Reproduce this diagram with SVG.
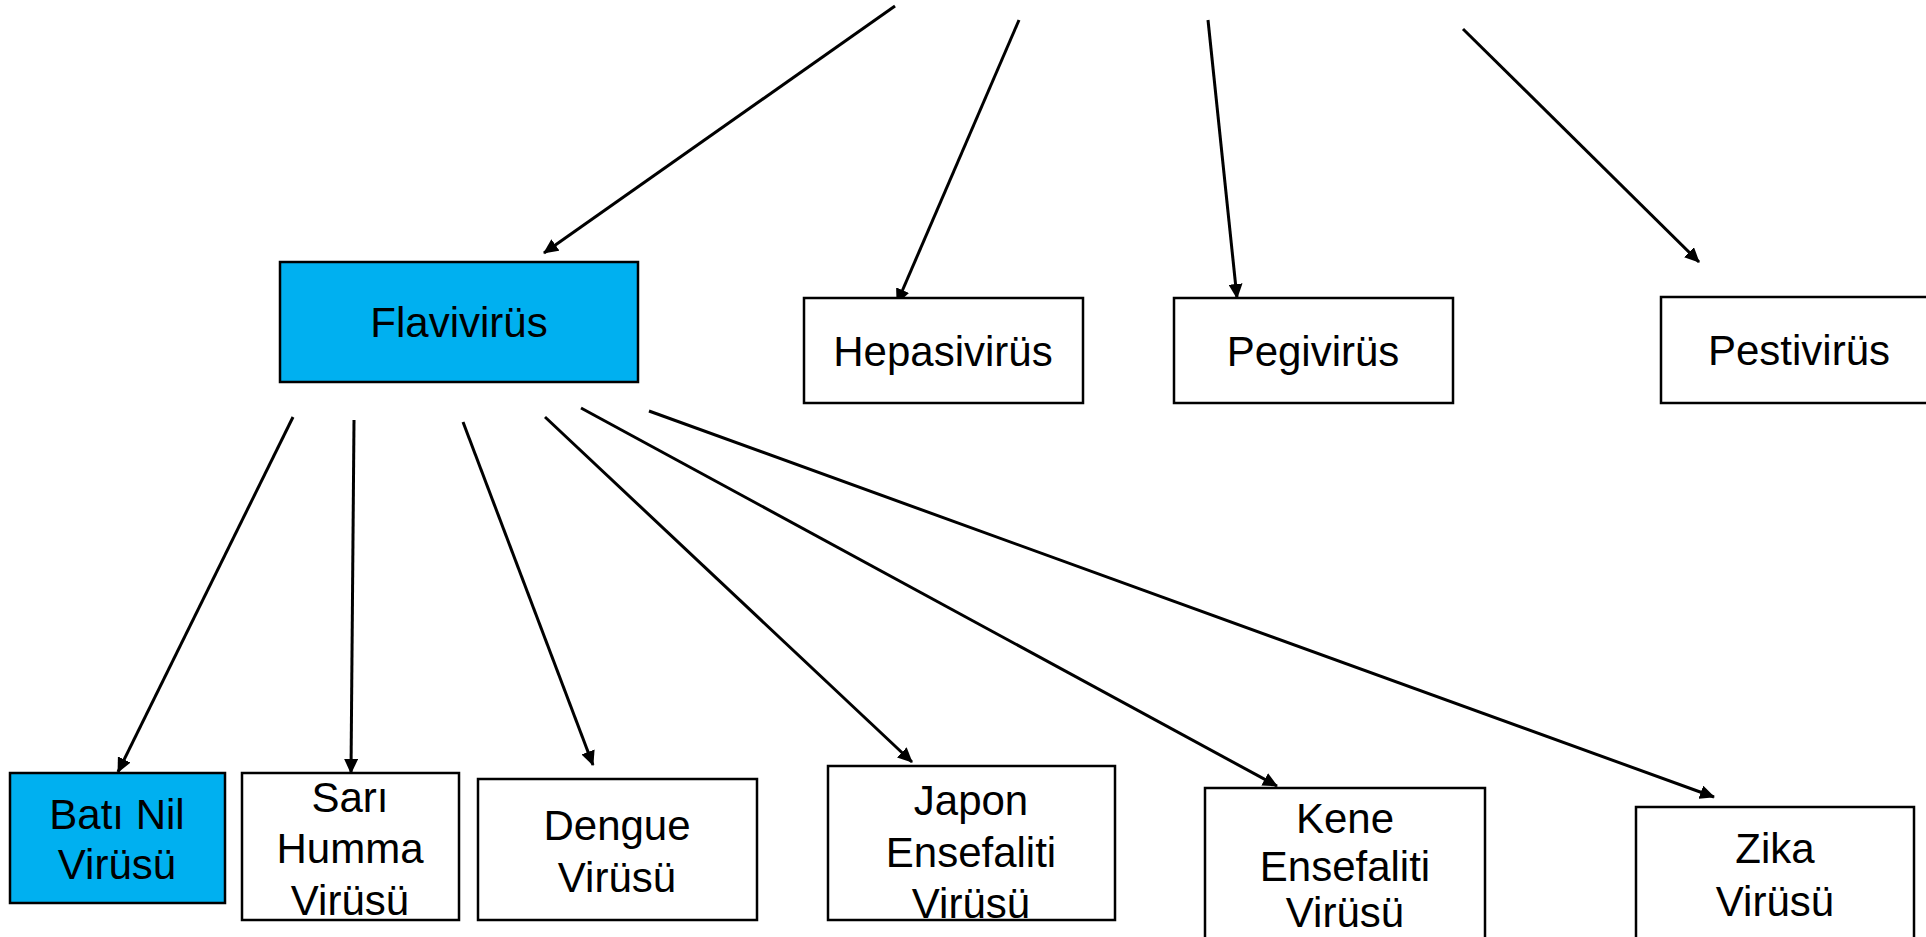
<svg xmlns="http://www.w3.org/2000/svg" width="1926" height="937" viewBox="0 0 1926 937">
<style>
.box{fill:#FFFFFF;stroke:#000000;stroke-width:2.5}
.blue{fill:#00B0F0}
.lbl{font-family:"Liberation Sans",Arial,sans-serif;font-size:42px;fill:#000000;text-anchor:middle}
.conn{stroke:#000000;stroke-width:3;fill:none;marker-end:url(#ah)}
</style>
<defs>
<marker id="ah" viewBox="0 0 15 14" refX="14" refY="7" markerWidth="15" markerHeight="14" markerUnits="userSpaceOnUse" orient="auto">
<path d="M0,0 L15,7 L0,14 z" fill="#000000"/>
</marker>
</defs>
<rect width="1926" height="937" fill="#FFFFFF"/>
<g id="connectors">
<line class="conn" x1="895" y1="6" x2="544" y2="253"/>
<line class="conn" x1="1019" y1="20" x2="897" y2="303"/>
<line class="conn" x1="1208" y1="20" x2="1237" y2="298"/>
<line class="conn" x1="1463" y1="29" x2="1699" y2="262"/>
<line class="conn" x1="293" y1="417" x2="118" y2="772"/>
<line class="conn" x1="354" y1="420" x2="351" y2="773"/>
<line class="conn" x1="463" y1="422" x2="593" y2="765"/>
<line class="conn" x1="545" y1="417" x2="912" y2="762"/>
<line class="conn" x1="581" y1="408" x2="1277" y2="786"/>
<line class="conn" x1="649" y1="411" x2="1714" y2="797"/>
</g>
<g id="flavivirus">
<rect class="box blue" x="280" y="262" width="358" height="120"/>
<text class="lbl" x="459" y="337">Flavivirüs</text>
</g>
<g id="hepasivirus">
<rect class="box" x="804" y="298" width="279" height="105"/>
<text class="lbl" x="943" y="366">Hepasivirüs</text>
</g>
<g id="pegivirus">
<rect class="box" x="1174" y="298" width="279" height="105"/>
<text class="lbl" x="1313" y="366">Pegivirüs</text>
</g>
<g id="pestivirus">
<rect class="box" x="1661" y="297" width="280" height="106"/>
<text class="lbl" x="1799" y="365">Pestivirüs</text>
</g>
<g id="bati-nil">
<rect class="box blue" x="10" y="773" width="215" height="130"/>
<text class="lbl" x="117" y="829">Batı Nil</text>
<text class="lbl" x="117" y="879">Virüsü</text>
</g>
<g id="sari-humma">
<rect class="box" x="242" y="773" width="217" height="147"/>
<text class="lbl" x="350" y="812">Sarı</text>
<text class="lbl" x="350" y="863">Humma</text>
<text class="lbl" x="350" y="915">Virüsü</text>
</g>
<g id="dengue">
<rect class="box" x="478" y="779" width="279" height="141"/>
<text class="lbl" x="617" y="840">Dengue</text>
<text class="lbl" x="617" y="892">Virüsü</text>
</g>
<g id="japon">
<rect class="box" x="828" y="766" width="287" height="154"/>
<text class="lbl" x="971" y="815">Japon</text>
<text class="lbl" x="971" y="867">Ensefaliti</text>
<text class="lbl" x="971" y="918">Virüsü</text>
</g>
<g id="kene">
<rect class="box" x="1205" y="788" width="280" height="180"/>
<text class="lbl" x="1345" y="833">Kene</text>
<text class="lbl" x="1345" y="881">Ensefaliti</text>
<text class="lbl" x="1345" y="927">Virüsü</text>
</g>
<g id="zika">
<rect class="box" x="1636" y="807" width="278" height="160"/>
<text class="lbl" x="1775" y="863">Zika</text>
<text class="lbl" x="1775" y="916">Virüsü</text>
</g>
</svg>
